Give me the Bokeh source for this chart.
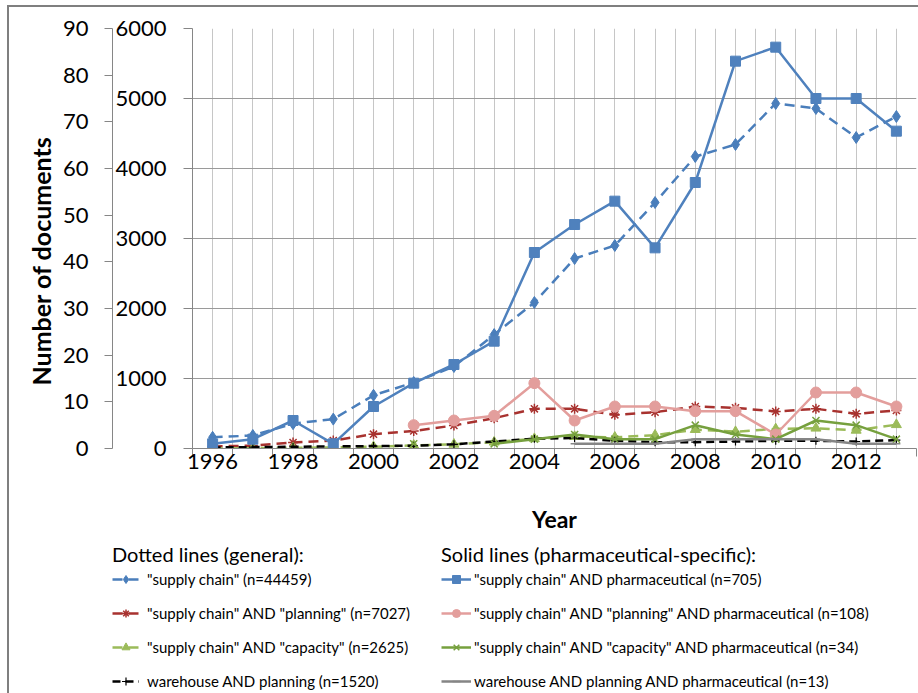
import numpy as np
from bokeh.plotting import figure
from bokeh.layouts import column
from bokeh.models import Range1d, LinearAxis, FixedTicker, Legend, LegendItem, Title
from bokeh.embed import file_html
from bokeh.resources import INLINE

nan = np.nan

# ---- data ----
years = list(range(1996, 2014))
x_tick_years = [1996, 1998, 2000, 2002, 2004, 2006, 2008, 2010, 2012]
x_tick_labels = ["1996", "1998", "2000", "2002", "2004", "2006", "2008", "2010", "2012"]
general_ticks = [0, 1000, 2000, 3000, 4000, 5000, 6000]
pharma_ticks = [0, 10, 20, 30, 40, 50, 60, 70, 80, 90]

# general queries (dotted lines, inner axis 0-6000)
gen_supply_chain = [160, 186, 355, 420, 760, 943, 1171, 1628, 2086, 2714, 2900, 3514, 4171, 4343, 4929, 4857, 4443, 4743]
gen_planning = [30, 40, 85, 114, 205, 250, 329, 433, 567, 567, 481, 519, 600, 581, 529, 567, 495, 543]
gen_capacity = [5, 5, 10, 15, 25, 45, 60, 90, 140, 170, 160, 190, 270, 240, 280, 290, 260, 340]
gen_warehouse = [15, 20, 25, 30, 35, 40, 60, 100, 140, 150, 110, 90, 90, 100, 110, 110, 100, 120]

# pharmaceutical-specific queries (solid lines, outer axis 0-90)
ph_supply_chain = [1, 2, 6, 1, 9, 14, 18, 23, 42, 48, 53, 43, 57, 83, 86, 75, 75, 68]
ph_planning = [nan, nan, nan, nan, nan, 5, 6, 7, 14, 6, 9, 9, 8, 8, 3, 12, 12, 9]
ph_capacity = [nan, nan, nan, nan, nan, 1, nan, 1, 2, 3, 2, 2, 5, 3, 2, 6, 5, 2]
ph_warehouse = [nan, nan, nan, nan, nan, nan, nan, nan, nan, 1, 1, 1, 2, 2, 2, 2, 1, 1]

gen_labels = ['"supply chain" (n=44459)',
              '"supply chain" AND "planning" (n=7027)',
              '"supply chain" AND "capacity" (n=2625)',
              'warehouse AND planning (n=1520)']
ph_labels = ['"supply chain" AND pharmaceutical (n=705)',
             '"supply chain" AND "planning" AND pharmaceutical (n=108)',
             '"supply chain" AND "capacity" AND pharmaceutical (n=34)',
             'warehouse AND planning AND pharmaceutical (n=13)']

FONT = "Lato"
BORDER = "#7F7F7F"

p = figure(width=918, height=535, output_backend="svg", toolbar_location=None,
           x_range=Range1d(1995.5, 2013.5), y_range=Range1d(0, 6000),
           min_border_left=192, min_border_right=2, min_border_top=28, min_border_bottom=87)
p.extra_y_ranges = {"pharma": Range1d(0, 90)}
p.outline_line_color = None
p.background_fill_color = "white"
p.border_fill_alpha = 0
p.styles = {"background": f"linear-gradient({BORDER},{BORDER}) 7px 5px / 2px 100% no-repeat, "
                          f"linear-gradient({BORDER},{BORDER}) 7px 5px / 100% 2px no-repeat, white"}

# grids
p.xgrid.ticker = FixedTicker(ticks=[1995.5 + 0.5 * i for i in range(37)])
p.xgrid.grid_line_color = "#C6C6C6"
p.xgrid.grid_line_width = 1
p.ygrid.ticker = FixedTicker(ticks=general_ticks)
p.ygrid.grid_line_color = "#9A9A9A"
p.ygrid.grid_line_width = 1

# x axis
xa = p.xaxis[0]
xa.ticker = FixedTicker(ticks=x_tick_years, minor_ticks=[y - 0.5 for y in years] + [years[-1] + 0.5])
xa.major_label_overrides = {y: l for y, l in zip(x_tick_years, x_tick_labels)}
xa.major_tick_out = 0
xa.major_tick_in = 0
xa.minor_tick_out = 8
xa.minor_tick_in = 0
xa.minor_tick_line_color = "#868686"
xa.axis_line_color = "#868686"
xa.major_label_text_font = FONT
xa.major_label_text_font_size = "22px"
xa.major_label_text_color = "black"
xa.major_label_standoff = -3
xa.axis_label = "Year"
xa.axis_label_text_font = FONT
xa.axis_label_text_font_style = "bold"
xa.axis_label_text_font_size = "23px"
xa.axis_label_text_color = "black"
xa.axis_label_standoff = 33

# inner y axis (general, 0-6000)
ya = p.yaxis[0]
ya.ticker = FixedTicker(ticks=general_ticks)
ya.minor_tick_line_color = None
ya.major_tick_out = 9
ya.major_tick_in = 0
ya.major_tick_line_color = "#868686"
ya.axis_line_color = "#868686"
ya.major_label_text_font = FONT
ya.major_label_text_font_size = "22px"
ya.major_label_text_color = "black"
ya.major_label_standoff = 17

# outer y axis (pharmaceutical, 0-90)
ya2 = LinearAxis(y_range_name="pharma", ticker=FixedTicker(ticks=pharma_ticks))
ya2.minor_tick_line_color = None
ya2.major_tick_out = 8
ya2.major_tick_in = 0
ya2.major_tick_line_color = "#868686"
ya2.axis_line_color = "#868686"
ya2.major_label_text_font = FONT
ya2.major_label_text_font_size = "22px"
ya2.major_label_text_color = "black"
ya2.major_label_standoff = 16
p.add_layout(ya2, "left")

# y axis title (sits a little below the frame centre, as in the original)
p.add_layout(Title(text="Number of documents", align="left", offset=63,
                   text_font=FONT, text_font_size="25px", text_font_style="bold",
                   text_color="black", standoff=8), "left")

LW = 2.5
DASH = "10 6"

gen_specs = [
    (gen_supply_chain, "#4A7EBB", DASH, "diamond", 12, 1),
    (gen_planning, "#A8322F", DASH, "asterisk", 10, 1.5),
    (gen_capacity, "#9BBB59", DASH, "triangle", 10, 1),
    (gen_warehouse, "#000000", "8 5", "cross", 8, 1.2),
]
ph_specs = [
    (ph_supply_chain, "#4F81BD", "solid", "square", 10, 1),
    (ph_planning, "#E39E9C", "solid", "circle", 11, 1),
    (ph_capacity, "#76A03E", "solid", "x", 10, 1.5),
    (ph_warehouse, "#858585", "solid", "dash", 8, 1.5),
]

for vals, color, dash, marker, size, mlw in gen_specs:
    p.line(years, vals, line_color=color, line_width=LW, line_dash=dash)
    p.scatter(years, vals, marker=marker, size=size, fill_color=color,
              line_color=color, line_width=mlw)

for vals, color, dash, marker, size, mlw in ph_specs:
    p.line(years, vals, line_color=color, line_width=LW, line_dash=dash, y_range_name="pharma")
    p.scatter(years, vals, marker=marker, size=size, fill_color=color,
              line_color=color, line_width=mlw, y_range_name="pharma")

# ---- legend panel (second figure below the chart; its series lie outside its view) ----
lp = figure(width=918, height=158, output_backend="svg", toolbar_location=None,
            x_range=Range1d(1995.5, 2013.5), y_range=Range1d(-200, -100), min_border=0,
            x_axis_type=None, y_axis_type=None)
lp.frame_align = False
lp.outline_line_color = None
lp.grid.visible = False
lp.background_fill_alpha = 0
lp.border_fill_alpha = 0
lp.styles = {"background": f"linear-gradient({BORDER},{BORDER}) 7px 0px / 2px 100% no-repeat, white"}


def legend_items(specs, labels):
    items = []
    for (vals, color, dash, marker, size, mlw), label in zip(specs, labels):
        r1 = lp.line(years, vals, line_color=color, line_width=LW, line_dash=dash)
        r2 = lp.scatter(years, vals, marker=marker, size=size, fill_color=color,
                        line_color=color, line_width=mlw)
        items.append(LegendItem(label=label, renderers=[r1, r2]))
    return items


def make_legend(items, title, loc, glyph_w, standoff):
    lg = Legend(items=items, location=loc, title=title)
    lg.title_text_font = FONT
    lg.title_text_font_size = "20px"
    lg.title_text_font_style = "normal"
    lg.title_text_color = "black"
    lg.title_standoff = 3
    lg.label_text_font = FONT
    lg.label_text_font_size = "15px"
    lg.label_text_color = "black"
    lg.label_standoff = standoff
    lg.glyph_width = glyph_w
    lg.glyph_height = 20
    lg.label_height = 20
    lg.spacing = 14
    lg.padding = 0
    lg.margin = 0
    lg.border_line_color = None
    lg.background_fill_alpha = 0
    return lg


lp.add_layout(make_legend(legend_items(gen_specs, gen_labels), "Dotted lines (general):", (112, 2), 27, 8))
lp.add_layout(make_legend(legend_items(ph_specs, ph_labels), "Solid lines (pharmaceutical-specific):", (441, 2), 30, 3))

layout = column(p, lp, spacing=0)
open("out.html", "w").write(file_html(layout, INLINE))
